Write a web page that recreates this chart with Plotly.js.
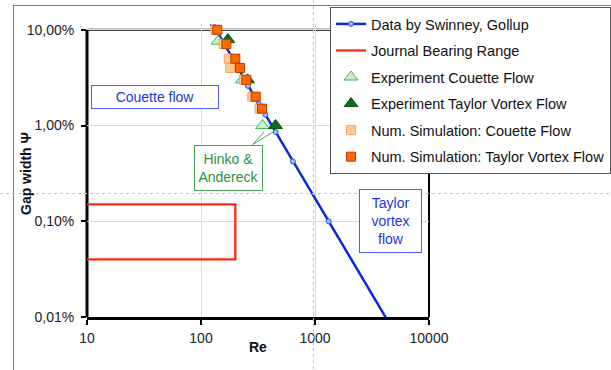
<!DOCTYPE html>
<html>
<head>
<meta charset="utf-8">
<script src="https://cdn.plot.ly/plotly-3.0.1.min.js"></script>
<style>
  html, body { margin: 0; padding: 0; background: #ffffff; }
  #chart { width: 611px; height: 370px; }
</style>
</head>
<body>
<div id="chart"></div>
<script>
// Critical gap width vs. Reynolds number for Couette / Taylor vortex flow

// Swinney & Gollub reference curve
const reSwinney  = [127, 258, 321, 367, 452, 641, 1318, 4169];
const psiSwinney = [0.115, 0.0260, 0.0168, 0.0130, 0.00855, 0.00422, 0.000998, 0.0000993];

// Typical journal bearing operating range (outline)
const reBearing  = [10, 200, 200, 10];
const psiBearing = [0.0015, 0.0015, 0.0004, 0.0004];

// Experiments (Hinko & Andereck)
const reExpCouette  = [141, 230, 346];
const psiExpCouette = [0.076, 0.030, 0.010];
const reExpTaylor   = [172, 256, 451];
const psiExpTaylor  = [0.079, 0.030, 0.010];

// Numerical simulations
const reSimCouette  = [134, 158, 175, 180, 239, 282, 327];
const psiSimCouette = [0.100, 0.071, 0.050, 0.040, 0.030, 0.020, 0.015];
const reSimTaylor   = [139, 167, 200, 220, 250, 302, 343];
const psiSimTaylor  = [0.100, 0.071, 0.050, 0.040, 0.030, 0.020, 0.015];

// Axis ticks
const xTickVals = [10, 100, 1000, 10000];
const xTickText = ['10', '100', '1000', '10000'];
const yTickVals = [0.0001, 0.001, 0.01, 0.1];
const yTickText = ['0,01%', '0,10%', '1,00%', '10,00%'];

// ---- layout geometry (pixels) ----
const W = 611, H = 370;
const M = { l: 87, r: 182, t: 24, b: 53, autoexpand: false };
const PW = W - M.l - M.r, PH = H - M.t - M.b;
const px = x => (x - M.l) / PW;          // pixel x -> paper
const py = y => (H - M.b - y) / PH;      // pixel y -> paper

// y range runs a little above 10 % so the curve can start above the frame
const yMin = Math.log10(0.0001), yMax = Math.log10(0.115);
const yFrameTop = (Math.log10(0.1) - yMin) / (yMax - yMin);   // paper y of the 10 % line

const FONT = 'Liberation Sans, Arial, Helvetica, sans-serif';
const BLUE_TXT = '#2236d8', BLUE_BOX = '#4a5cf0';
const GREEN_TXT = '#2f8f3c', GREEN_BOX = '#4aa45a';

const traces = [
  {
    name: 'Data by Swinney, Gollup', legendgroup: 'a',
    x: reSwinney, y: psiSwinney, type: 'scatter', mode: 'lines+markers',
    line: { color: '#0a28e0', width: 2.5 },
    marker: { symbol: 'circle', size: 5, color: '#9ec0ff', line: { color: '#2a50ee', width: 1 } }
  },
  {
    name: 'Journal Bearing Range', legendgroup: 'b',
    x: reBearing, y: psiBearing, type: 'scatter', mode: 'lines',
    line: { color: '#ff2a10', width: 2.3 }
  },
  {
    name: 'Experiment Couette Flow', legendgroup: 'c',
    x: reExpCouette, y: psiExpCouette, type: 'scatter', mode: 'markers', cliponaxis: false,
    marker: { symbol: 'triangle-up', size: 12, color: '#c8f0c8', line: { color: '#48b060', width: 1 } }
  },
  {
    name: 'Experiment Taylor Vortex Flow', legendgroup: 'd',
    x: reExpTaylor, y: psiExpTaylor, type: 'scatter', mode: 'markers', cliponaxis: false,
    marker: { symbol: 'triangle-up', size: 12, color: '#0b6e1e', line: { color: '#065014', width: 1 } }
  },
  {
    name: 'Num. Simulation: Couette Flow', legendgroup: 'e',
    x: reSimCouette, y: psiSimCouette, type: 'scatter', mode: 'markers', cliponaxis: false,
    marker: { symbol: 'square', size: 9, color: '#ffca98', line: { color: '#ffa062', width: 1 } }
  },
  {
    name: 'Num. Simulation: Taylor Vortex Flow', legendgroup: 'f',
    x: reSimTaylor, y: psiSimTaylor, type: 'scatter', mode: 'markers', cliponaxis: false,
    marker: { symbol: 'square', size: 9, color: '#ff6a00', line: { color: '#b83c00', width: 1 } }
  }
];

const shapes = [
  // plot frame: left axis, top and right border
  { type: 'line', xref: 'paper', yref: 'paper', x0: 0, x1: 0, y0: 0, y1: yFrameTop,
    line: { color: '#000', width: 3 }, layer: 'between' },
  { type: 'line', xref: 'paper', yref: 'paper', x0: 0, x1: 1, y0: yFrameTop, y1: yFrameTop,
    line: { color: '#000', width: 2 }, layer: 'between' },
  { type: 'line', xref: 'paper', yref: 'paper', x0: 1, x1: 1, y0: 0, y1: yFrameTop,
    line: { color: '#000', width: 2 }, layer: 'between' },
  // chart area outline
  { type: 'line', xref: 'paper', yref: 'paper', x0: px(13), x1: px(611), y0: py(5.5), y1: py(5.5),
    line: { color: '#808080', width: 1 } },
  { type: 'line', xref: 'paper', yref: 'paper', x0: px(13.5), x1: px(13.5), y0: py(5), y1: py(370),
    line: { color: '#808080', width: 1 } },
  // page break guides
  { type: 'line', xref: 'paper', yref: 'paper', x0: px(0), x1: px(611), y0: py(193.5), y1: py(193.5),
    line: { color: '#c4c4c4', width: 1, dash: 'dot' } },
  { type: 'line', xref: 'paper', yref: 'paper', x0: px(313.5), x1: px(313.5), y0: py(0), y1: py(370),
    line: { color: '#c4c4c4', width: 1, dash: 'dot' } },
  // callout lines to the experiment markers
  { type: 'line', xref: 'paper', yref: 'paper', x0: px(252.5), x1: px(264), y0: py(144.5), y1: py(132),
    line: { color: GREEN_BOX, width: 1 } },
  { type: 'line', xref: 'paper', yref: 'paper', x0: px(252.5), x1: px(274), y0: py(144.5), y1: py(131.5),
    line: { color: GREEN_BOX, width: 1 } }
];

// text placed by its centre
const centred = { showarrow: false, xref: 'paper', yref: 'paper', xanchor: 'center', yanchor: 'middle' };

const annotations = [
  Object.assign({}, centred, { text: '<b>Gap width Ψ</b>', x: px(26), y: py(174), textangle: -90,
    font: { family: FONT, size: 14, color: '#111' } }),
  Object.assign({}, centred, { text: '<b>Re</b>', x: px(258), y: py(347),
    font: { family: FONT, size: 14, color: '#111' } }),
  Object.assign({}, centred, { text: 'Couette flow', x: px(154.7), y: py(97),
    width: 126, height: 22, borderpad: 0, bgcolor: '#ffffff',
    bordercolor: BLUE_BOX, borderwidth: 1, font: { family: FONT, size: 14, color: BLUE_TXT } }),
  Object.assign({}, centred, { text: 'Hinko &amp;<br>Andereck', x: px(228), y: py(167.5),
    width: 67, height: 44, borderpad: 0, bgcolor: '#ffffff',
    bordercolor: GREEN_BOX, borderwidth: 1, font: { family: FONT, size: 14, color: GREEN_TXT } }),
  Object.assign({}, centred, { text: 'Taylor<br>vortex<br>flow', x: px(390), y: py(221.3),
    width: 61, height: 62, borderpad: 0, bgcolor: '#ffffff',
    bordercolor: BLUE_BOX, borderwidth: 1, font: { family: FONT, size: 14, color: BLUE_TXT } })
];

const layout = {
  width: W, height: H,
  margin: M,
  paper_bgcolor: '#ffffff', plot_bgcolor: '#ffffff',
  font: { family: FONT, size: 14, color: '#222' },
  showlegend: true,
  legend: {
    x: px(330), y: py(7), xanchor: 'left', yanchor: 'top',
    bgcolor: '#ffffff', bordercolor: '#555555', borderwidth: 1,
    font: { family: FONT, size: 14.5, color: '#111' },
    tracegroupgap: 4.7, itemwidth: 30
  },
  xaxis: {
    type: 'log', range: [1, 4], fixedrange: true,
    tickvals: xTickVals, ticktext: xTickText,
    ticks: 'outside', ticklen: 5, tickwidth: 2, tickcolor: '#000',
    ticklabelstandoff: 1,
    showline: true, linecolor: '#000', linewidth: 3,
    showgrid: true, gridcolor: '#d9d9d9', gridwidth: 1, zeroline: false,
    tickfont: { family: FONT, size: 14, color: '#222' }
  },
  yaxis: {
    type: 'log', range: [yMin, yMax], fixedrange: true,
    tickvals: yTickVals, ticktext: yTickText,
    ticks: 'outside', ticklen: 5, tickwidth: 2, tickcolor: '#000',
    ticklabelstandoff: 4,
    showline: false,
    showgrid: true, gridcolor: '#d9d9d9', gridwidth: 1, zeroline: false,
    tickfont: { family: FONT, size: 14, color: '#222' }
  },
  shapes: shapes,
  annotations: annotations
};

Plotly.newPlot('chart', traces, layout, { staticPlot: true, displayModeBar: false });
</script>
</body>
</html>
